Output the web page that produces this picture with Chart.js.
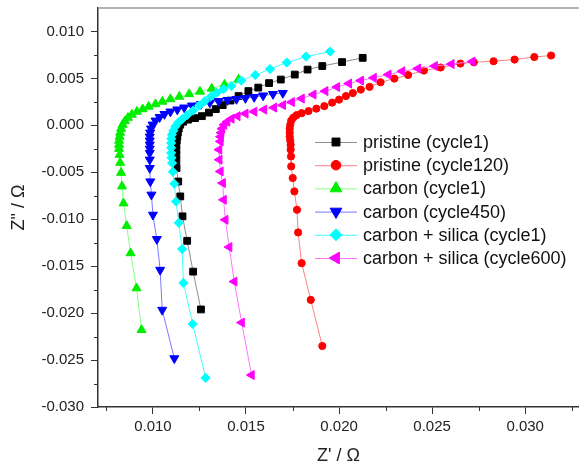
<!DOCTYPE html>
<html>
<head>
<meta charset="utf-8">
<script src="https://cdn.jsdelivr.net/npm/chart.js@4/dist/chart.umd.min.js"></script>
<style>
  html, body { margin: 0; padding: 0; background: #fff; }
  canvas { display: block; }
</style>
</head>
<body>
<canvas id="eis" width="585" height="468"></canvas>
<script>

// axis ticks
const xTicks = [0.010, 0.015, 0.020, 0.025, 0.030]
const xMinor = [0.0075, 0.0125, 0.0175, 0.0225, 0.0275, 0.0325]
const yTicks = [-0.030, -0.025, -0.020, -0.015, -0.010, -0.005, 0.000, 0.005, 0.010]
const yMinor = [-0.0275, -0.0225, -0.0175, -0.0125, -0.0075, -0.0025, 0.0025, 0.0075]

const seriesNames = ['pristine (cycle1)', 'pristine (cycle120)', 'carbon (cycle1)',
                     'carbon (cycle450)', 'carbon + silica (cycle1)', 'carbon + silica (cycle600)']

// Z' / Z'' values
const xPristine1 = [0.02127,0.02016,0.01910,0.01831,0.01762,0.01687,0.01624,0.01566,0.01513,0.01460,0.01417,0.01375,0.01338,0.01301,0.01263,0.01226,0.01189,0.01163,0.01147,0.01139,0.01134,0.01131,0.01128,0.01126,0.01126,0.01126,0.01126,0.01127,0.01136,0.01147,0.01159,0.01184,0.01216,0.01258]
const yPristine1 = [0.00719,0.00674,0.00632,0.00594,0.00541,0.00488,0.00450,0.00402,0.00365,0.00312,0.00264,0.00216,0.00173,0.00136,0.00098,0.00077,0.00061,0.00039,0.00007,-0.00035,-0.00078,-0.00121,-0.00163,-0.00206,-0.00259,-0.00313,-0.00377,-0.00455,-0.00598,-0.00757,-0.00969,-0.01230,-0.01558,-0.01961]

const xPristine120 = [0.03139,0.03049,0.02943,0.02830,0.02724,0.02652,0.02546,0.02456,0.02371,0.02297,0.02223,0.02164,0.02117,0.02074,0.02037,0.02000,0.01963,0.01921,0.01878,0.01836,0.01799,0.01772,0.01754,0.01743,0.01738,0.01735,0.01735,0.01735,0.01738,0.01740,0.01740,0.01742,0.01743,0.01751,0.01760,0.01774,0.01780,0.01799,0.01848,0.01910]
const yPristine120 = [0.00744,0.00728,0.00701,0.00683,0.00672,0.00658,0.00616,0.00584,0.00536,0.00498,0.00459,0.00410,0.00381,0.00344,0.00312,0.00274,0.00242,0.00205,0.00178,0.00152,0.00130,0.00109,0.00082,0.00050,0.00007,-0.00035,-0.00078,-0.00121,-0.00163,-0.00206,-0.00259,-0.00331,-0.00437,-0.00561,-0.00704,-0.00899,-0.01141,-0.01468,-0.01859,-0.02350]

const xCarbon1 = [0.01460,0.01385,0.01316,0.01253,0.01195,0.01142,0.01094,0.01051,0.01014,0.00977,0.00945,0.00914,0.00887,0.00866,0.00850,0.00837,0.00829,0.00824,0.00821,0.00818,0.00818,0.00818,0.00821,0.00824,0.00829,0.00834,0.00842,0.00859,0.00880,0.00912,0.00939]
const yCarbon1 = [0.00488,0.00434,0.00392,0.00360,0.00333,0.00306,0.00280,0.00253,0.00226,0.00200,0.00173,0.00146,0.00114,0.00082,0.00045,0.00007,-0.00035,-0.00078,-0.00121,-0.00163,-0.00206,-0.00249,-0.00313,-0.00398,-0.00505,-0.00649,-0.00830,-0.01070,-0.01361,-0.01735,-0.02179]

const xCarbon450 = [0.01698,0.01645,0.01592,0.01544,0.01497,0.01449,0.01401,0.01353,0.01306,0.01258,0.01210,0.01168,0.01131,0.01094,0.01062,0.01036,0.01014,0.00998,0.00990,0.00985,0.00983,0.00983,0.00983,0.00983,0.00983,0.00983,0.00983,0.00986,0.00992,0.01000,0.01021,0.01039,0.01050,0.01115]
const yCarbon450 = [0.00344,0.00333,0.00317,0.00301,0.00290,0.00280,0.00269,0.00258,0.00242,0.00226,0.00210,0.00189,0.00168,0.00146,0.00120,0.00087,0.00050,0.00007,-0.00035,-0.00078,-0.00121,-0.00163,-0.00206,-0.00249,-0.00294,-0.00366,-0.00455,-0.00598,-0.00739,-0.00953,-0.01212,-0.01540,-0.01966,-0.02482]

const xSilica1 = [0.01952,0.01823,0.01719,0.01629,0.01550,0.01475,0.01422,0.01380,0.01343,0.01311,0.01279,0.01248,0.01216,0.01184,0.01157,0.01136,0.01120,0.01110,0.01102,0.01099,0.01098,0.01098,0.01098,0.01100,0.01103,0.01107,0.01115,0.01124,0.01139,0.01157,0.01164,0.01214,0.01283]
const ySilica1 = [0.00786,0.00733,0.00669,0.00600,0.00536,0.00477,0.00418,0.00386,0.00349,0.00306,0.00258,0.00210,0.00157,0.00109,0.00066,0.00029,-0.00014,-0.00057,-0.00099,-0.00142,-0.00188,-0.00238,-0.00294,-0.00345,-0.00401,-0.00494,-0.00622,-0.00811,-0.01038,-0.01318,-0.01678,-0.02116,-0.02689]

const xSilica600 = [0.02716,0.02604,0.02514,0.02424,0.02339,0.02265,0.02186,0.02117,0.02053,0.01989,0.01926,0.01862,0.01799,0.01746,0.01698,0.01650,0.01597,0.01544,0.01497,0.01454,0.01422,0.01399,0.01383,0.01372,0.01367,0.01364,0.01363,0.01356,0.01357,0.01363,0.01375,0.01380,0.01389,0.01410,0.01437,0.01477,0.01530]
const ySilica600 = [0.00680,0.00653,0.00632,0.00605,0.00576,0.00541,0.00506,0.00477,0.00445,0.00408,0.00365,0.00328,0.00285,0.00248,0.00216,0.00189,0.00168,0.00146,0.00125,0.00098,0.00071,0.00039,0.00007,-0.00035,-0.00078,-0.00121,-0.00171,-0.00259,-0.00366,-0.00491,-0.00615,-0.00793,-0.01006,-0.01297,-0.01664,-0.02101,-0.02660]


const seriesX = [xPristine1, xPristine120, xCarbon1, xCarbon450, xSilica1, xSilica600]
const seriesY = [yPristine1, yPristine120, yCarbon1, yCarbon450, ySilica1, ySilica600]

// marker look, one per series
const looks = [
      { marker: '#000000', line: '#8c8c8c', shape: 'rect',     rot: 0,   r: 4.8, lr: 5.6 },
      { marker: '#ff0000', line: '#ff8080', shape: 'circle',   rot: 0,   r: 3.6, lr: 4.8 },
      { marker: '#00ee00', line: '#88ff88', shape: 'triangle', rot: 0,   r: 5.2, lr: 6.8 },
      { marker: '#0000ff', line: '#7777ff', shape: 'triangle', rot: 180, r: 5.2, lr: 6.8 },
      { marker: '#00ffff', line: '#44ffff', shape: 'rectRot',  rot: 0,   r: 4.6, lr: 6.0 },
      { marker: '#ff00ff', line: '#ff77ff', shape: 'triangle', rot: 270, r: 5.2, lr: 6.8 },
]

const FONT = 'Liberation Sans, Arial, sans-serif'


function buildDatasets(){

      return seriesNames.map((name, i)=>{
            const lk = looks[i]
            return {
                  label: name,
                  data: seriesX[i].map((x, k)=>({ x: x, y: seriesY[i][k] })),
                  showLine: true,
                  tension: 0,
                  borderColor: lk.line,
                  borderWidth: 1,
                  pointStyle: lk.shape,
                  rotation: lk.rot,
                  pointRotation: lk.rot,
                  pointRadius: lk.r,
                  pointBackgroundColor: lk.marker,
                  pointBorderColor: lk.marker,
                  pointBorderWidth: 1,
                  order: seriesNames.length - i,
            }
      })
}


// minor ticks, top frame and the boxed-in legend
const axisExtras = {
      id: 'axisExtras',
      afterDraw(chart){
            const { ctx, chartArea: a, scales } = chart
            ctx.save()

            ctx.strokeStyle = '#333'
            ctx.lineWidth = 1
            ctx.beginPath()
            xMinor.forEach(v=>{
                  const px = Math.round(scales.x.getPixelForValue(v)) + 0.5
                  if(px < a.left || px > a.right){ return }
                  ctx.moveTo(px, a.bottom); ctx.lineTo(px, a.bottom + 4)
            })
            yMinor.forEach(v=>{
                  const py = Math.round(scales.y.getPixelForValue(v)) + 0.5
                  ctx.moveTo(a.left, py); ctx.lineTo(a.left - 4, py)
            })
            ctx.stroke()

            ctx.strokeStyle = '#999'
            ctx.lineWidth = 1.5
            ctx.beginPath()
            ctx.moveTo(a.left, a.top); ctx.lineTo(a.right, a.top)
            ctx.stroke()

            // legend
            const lx = 315, mx = 336, rx = 357, tx = 363, ty = 142, dy = 23.2
            ctx.font = '18px ' + FONT
            ctx.textBaseline = 'middle'
            ctx.textAlign = 'left'
            seriesNames.forEach((name, i)=>{
                  const lk = looks[i]
                  const yy = ty + i * dy
                  ctx.strokeStyle = lk.line
                  ctx.lineWidth = 1
                  ctx.beginPath(); ctx.moveTo(lx, yy + 0.5); ctx.lineTo(rx, yy + 0.5); ctx.stroke()
                  ctx.fillStyle = lk.marker
                  ctx.strokeStyle = lk.marker
                  Chart.helpers.drawPoint(ctx, { pointStyle: lk.shape, rotation: lk.rot, radius: lk.lr, borderWidth: 1 }, mx, yy)
                  ctx.fillStyle = '#111'
                  ctx.fillText(name, tx, yy + 1)
            })

            ctx.restore()
      }
}


const setup = {
      type: 'scatter',
      data: { datasets: buildDatasets() },
      options: {
            responsive: false,
            animation: false,
            devicePixelRatio: 1,
            layout: { padding: { left: 0, right: 0, top: 8, bottom: 0 } },
            plugins: {
                  legend: { display: false },
                  tooltip: { enabled: false },
            },
            scales: {
                  x: {
                        type: 'linear',
                        min: 0.00705,
                        max: 0.03288,
                        afterBuildTicks: (scale)=>{ scale.ticks = xTicks.map(v=>({ value: v })) },
                        afterFit: (scale)=>{ scale.height = 61; scale.paddingLeft = 0; scale.paddingRight = 0 },
                        grid: { drawOnChartArea: false, drawTicks: true, tickLength: 7, color: '#333', lineWidth: 1 },
                        border: { display: true, color: '#333', width: 1.5 },
                        ticks: {
                              padding: 4,
                              color: '#222',
                              font: { family: FONT, size: 15 },
                              maxRotation: 0,
                              callback: (v)=> Number(v).toFixed(3),
                        },
                        title: { display: true, text: "Z' / \u03A9", color: '#222',
                                 font: { family: FONT, size: 18 }, padding: { top: 1, bottom: 1 } },
                  },
                  y: {
                        type: 'linear',
                        min: -0.030,
                        max: 0.0125,
                        afterBuildTicks: (scale)=>{ scale.ticks = yTicks.map(v=>({ value: v })) },
                        afterFit: (scale)=>{ scale.width = 98; scale.paddingTop = 0; scale.paddingBottom = 0 },
                        grid: { drawOnChartArea: false, drawTicks: true, tickLength: 7, color: '#333', lineWidth: 1 },
                        border: { display: true, color: '#333', width: 1.5 },
                        ticks: {
                              padding: 7,
                              color: '#222',
                              font: { family: FONT, size: 15 },
                              callback: (v)=> Number(v).toFixed(3),
                        },
                        title: { display: true, text: 'Z" / \u03A9', color: '#222',
                                 font: { family: FONT, size: 18 }, padding: { top: 8, bottom: 4 } },
                  },
            },
      },
      plugins: [axisExtras],
}

new Chart(document.getElementById('eis'), setup)

</script>
</body>
</html>
